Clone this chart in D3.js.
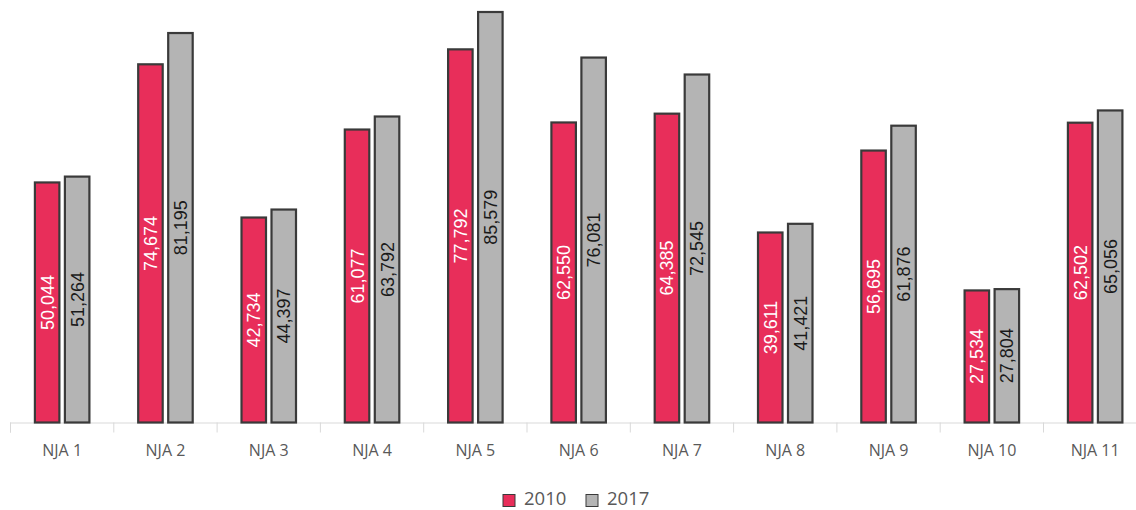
<!DOCTYPE html>
<html>
<head>
<meta charset="utf-8">
<script src="https://cdn.jsdelivr.net/npm/d3@7"></script>
<style>
  html, body { margin: 0; padding: 0; background: #ffffff; }
  svg { display: block; }
</style>
</head>
<body>
<svg id="chart" width="1136" height="510"></svg>
<script>
const categories = ["NJA 1","NJA 2","NJA 3","NJA 4","NJA 5","NJA 6","NJA 7","NJA 8","NJA 9","NJA 10","NJA 11"];
const seriesNames = ["2010","2017"];
const values2010 = [50044, 74674, 42734, 61077, 77792, 62550, 64385, 39611, 56695, 27534, 62502];
const values2017 = [51264, 81195, 44397, 63792, 85579, 76081, 72545, 41421, 61876, 27804, 65056];
const colors = ["#E82E5A", "#B4B4B4"];
const labelColors = ["#ffffff", "#1a1a1a"];

const svg = d3.select("#chart");
const baseY = 422.5;
const x0 = d3.scaleBand().domain(categories).range([10.5, 10.5 + 103.3 * categories.length]).paddingInner(0).paddingOuter(0);
const y = d3.scaleLinear().domain([0, 88080]).range([baseY, 0]);
const barW = 24.5, gap = 5.5;

// axis
const axis = d3.axisBottom(x0).tickSize(10).tickSizeOuter(0).tickFormat("");
const axG = svg.append("g").attr("transform", `translate(0,${baseY})`).call(axis);
axG.select(".domain").attr("stroke", "#d9d9d9").attr("stroke-width", 1);
axG.selectAll(".tick line").attr("stroke", "#d9d9d9").attr("transform", `translate(${-x0.bandwidth()/2},0)`);
axG.append("line").attr("x1", x0.range()[1]).attr("x2", x0.range()[1]).attr("y1", 0).attr("y2", 10).attr("stroke", "#d9d9d9");
axG.append("line").attr("x1", x0.range()[0]).attr("x2", x0.range()[0]).attr("y1", 0).attr("y2", 10).attr("stroke", "#d9d9d9");

svg.append("g").selectAll("text").data(categories).join("text")
  .attr("x", d => x0(d) + x0.bandwidth()/2)
  .attr("y", 456)
  .attr("text-anchor", "middle")
  .attr("font-family", "'Open Sans', sans-serif")
  .attr("font-size", 16)
  .attr("fill", "#595959")
  .text(d => d);

const series = [values2010, values2017];
series.forEach((vals, si) => {
  const g = svg.append("g");
  const data = categories.map((c, i) => ({c, v: vals[i]}));
  const bx = d => x0(d.c) + x0.bandwidth()/2 - (barW + gap/2) + si * (barW + gap);
  g.selectAll("rect").data(data).join("rect")
    .attr("x", bx)
    .attr("y", d => y(d.v))
    .attr("width", barW)
    .attr("height", d => baseY - y(d.v))
    .attr("fill", colors[si])
    .attr("stroke", "#3a3a3a")
    .attr("stroke-width", 2.2);
  g.selectAll("text").data(data).join("text")
    .attr("transform", d => `translate(${bx(d) + barW/2 + 6.5},${(y(d.v) + baseY)/2}) rotate(-90)`)
    .attr("text-anchor", "middle")
    .attr("font-family", "'Liberation Sans', Arial, sans-serif")
    .attr("font-size", 18)
    .attr("fill", labelColors[si])
    .text(d => d3.format(",")(d.v));
});

// legend
const legend = svg.append("g");
const legX = [503, 586];
seriesNames.forEach((s, i) => {
  legend.append("rect").attr("x", legX[i]).attr("y", 494.5).attr("width", 12).attr("height", 12)
    .attr("fill", colors[i]).attr("stroke", "#3a3a3a").attr("stroke-width", 1);
  legend.append("text").attr("x", legX[i] + 21).attr("y", 504.5)
    .attr("font-family", "'Open Sans', sans-serif").attr("font-size", 18.5).attr("fill", "#595959")
    .text(s);
});
</script>
</body>
</html>
